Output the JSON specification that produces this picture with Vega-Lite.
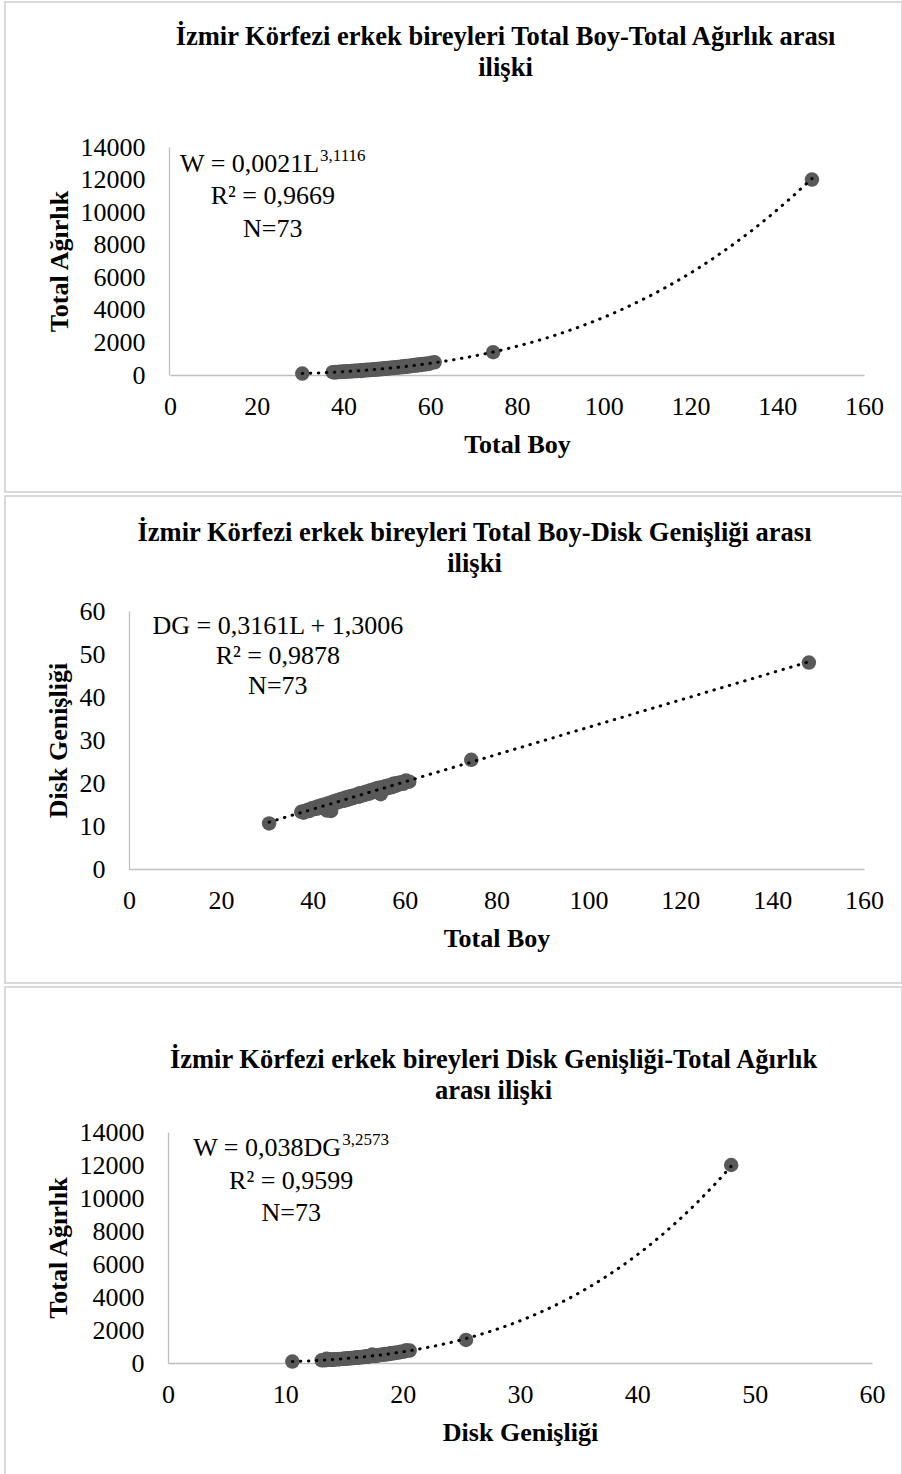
{
  "$schema": "https://vega.github.io/schema/vega-lite/v6.json",
  "padding": {"left": 4, "top": 1, "right": 0, "bottom": 0},
  "background": "white",
  "config": {
    "font": "Liberation Serif",
    "view": {"stroke": "#d9d9d9", "strokeWidth": 2},
    "concat": {"spacing": 2},
    "axis": {
      "domainColor": "#bfbfbf", "domainWidth": 1.3, "ticks": false, "grid": false,
      "labelFont": "Liberation Serif", "labelFontSize": 26, "labelColor": "#000",
      "titleFont": "Liberation Serif", "titleFontSize": 26, "titleFontWeight": "bold", "titleColor": "#000",
      "labelOverlap": false, "labelFlush": false, "format": "d"
    },
    "axisX": {"labelPadding": 18, "titlePadding": 12},
    "axisY": {"labelPadding": 24, "titlePadding": 8},
    "title": {"font": "Liberation Serif", "fontSize": 26.5, "fontWeight": "bold", "color": "#000", "lineHeight": 31, "anchor": "middle", "frame": "group"},
    "text": {"font": "Liberation Serif", "color": "#000"}
  },
  "datasets": {
    "fish": [
      {"L": 30.5, "DG": 10.6, "W": 85},
      {"L": 37.5, "DG": 13.3, "W": 170},
      {"L": 38.0, "DG": 13.1, "W": 160},
      {"L": 38.2, "DG": 13.5, "W": 185},
      {"L": 38.6, "DG": 13.4, "W": 175},
      {"L": 39.0, "DG": 13.8, "W": 196},
      {"L": 39.3, "DG": 13.5, "W": 184},
      {"L": 39.8, "DG": 14.1, "W": 210},
      {"L": 40.1, "DG": 13.9, "W": 198},
      {"L": 40.5, "DG": 14.3, "W": 220},
      {"L": 40.8, "DG": 14.0, "W": 207},
      {"L": 41.2, "DG": 14.6, "W": 232},
      {"L": 41.5, "DG": 14.2, "W": 219},
      {"L": 41.9, "DG": 14.8, "W": 245},
      {"L": 42.2, "DG": 14.5, "W": 230},
      {"L": 42.5, "DG": 15.0, "W": 255},
      {"L": 42.8, "DG": 14.6, "W": 241},
      {"L": 43.1, "DG": 13.6, "W": 238},
      {"L": 43.4, "DG": 15.3, "W": 275},
      {"L": 43.7, "DG": 15.0, "W": 259},
      {"L": 44.0, "DG": 13.5, "W": 252},
      {"L": 44.2, "DG": 15.6, "W": 290},
      {"L": 44.5, "DG": 15.2, "W": 272},
      {"L": 44.8, "DG": 15.8, "W": 301},
      {"L": 45.1, "DG": 15.4, "W": 284},
      {"L": 45.4, "DG": 16.0, "W": 315},
      {"L": 45.7, "DG": 15.6, "W": 296},
      {"L": 46.0, "DG": 16.2, "W": 326},
      {"L": 46.3, "DG": 15.8, "W": 305},
      {"L": 46.6, "DG": 16.4, "W": 341},
      {"L": 46.9, "DG": 15.9, "W": 318},
      {"L": 47.2, "DG": 16.6, "W": 352},
      {"L": 47.5, "DG": 16.1, "W": 330},
      {"L": 47.8, "DG": 16.8, "W": 368},
      {"L": 48.1, "DG": 16.3, "W": 344},
      {"L": 48.4, "DG": 17.0, "W": 383},
      {"L": 48.7, "DG": 16.5, "W": 358},
      {"L": 49.0, "DG": 17.1, "W": 396},
      {"L": 49.3, "DG": 16.7, "W": 372},
      {"L": 49.6, "DG": 17.3, "W": 412},
      {"L": 49.9, "DG": 16.8, "W": 388},
      {"L": 50.2, "DG": 17.6, "W": 428},
      {"L": 50.5, "DG": 17.0, "W": 401},
      {"L": 50.8, "DG": 17.7, "W": 445},
      {"L": 51.1, "DG": 17.2, "W": 417},
      {"L": 51.4, "DG": 17.9, "W": 461},
      {"L": 51.7, "DG": 17.4, "W": 433},
      {"L": 52.0, "DG": 18.1, "W": 478},
      {"L": 52.3, "DG": 17.5, "W": 447},
      {"L": 52.6, "DG": 18.3, "W": 495},
      {"L": 52.9, "DG": 17.8, "W": 463},
      {"L": 53.2, "DG": 18.5, "W": 514},
      {"L": 53.5, "DG": 18.0, "W": 481},
      {"L": 53.8, "DG": 18.7, "W": 532},
      {"L": 54.1, "DG": 18.2, "W": 498},
      {"L": 54.4, "DG": 18.9, "W": 552},
      {"L": 54.8, "DG": 17.4, "W": 508},
      {"L": 55.1, "DG": 19.0, "W": 573},
      {"L": 55.5, "DG": 18.5, "W": 540},
      {"L": 55.9, "DG": 19.3, "W": 598},
      {"L": 56.3, "DG": 18.8, "W": 563},
      {"L": 56.7, "DG": 19.5, "W": 626},
      {"L": 57.1, "DG": 19.0, "W": 590},
      {"L": 57.5, "DG": 19.8, "W": 653},
      {"L": 57.9, "DG": 19.3, "W": 616},
      {"L": 58.3, "DG": 20.0, "W": 682},
      {"L": 58.7, "DG": 19.6, "W": 642},
      {"L": 59.2, "DG": 20.2, "W": 712},
      {"L": 59.7, "DG": 19.8, "W": 676},
      {"L": 60.3, "DG": 20.6, "W": 756},
      {"L": 61.0, "DG": 20.3, "W": 780},
      {"L": 74.5, "DG": 25.4, "W": 1400},
      {"L": 148.0, "DG": 48.0, "W": 12000}
    ]
  },
  "vconcat": [
    {
      "width": 897,
      "height": 490,
      "title": {"text": ["İzmir Körfezi erkek bireyleri Total Boy-Total Ağırlık arası", "ilişki"], "offset": -79, "dx": 52},
      "data": {"name": "fish"},
      "layer": [
        {
          "mark": {"type": "circle", "size": 210, "color": "#595959", "opacity": 1},
          "encoding": {
            "x": {"field": "L", "type": "quantitative",
                  "scale": {"domain": [0, 160], "range": [165, 859], "nice": false, "zero": false},
                  "axis": {"title": "Total Boy", "values": [0, 20, 40, 60, 80, 100, 120, 140, 160], "offset": -117}},
            "y": {"field": "W", "type": "quantitative",
                  "scale": {"domain": [0, 14000], "range": [373, 145], "nice": false},
                  "axis": {"title": "Total Ağırlık", "values": [0, 2000, 4000, 6000, 8000, 10000, 12000, 14000], "offset": -164}}
          }
        },
        {
          "transform": [{"regression": "W", "on": "L", "method": "pow"}],
          "mark": {"type": "line", "color": "#000", "strokeWidth": 3, "strokeDash": [0.5, 7.5], "strokeCap": "round"},
          "encoding": {
            "x": {"field": "L", "type": "quantitative"},
            "y": {"field": "W", "type": "quantitative"}
          }
        },
        {
          "data": {"values": [{}]},
          "mark": {"type": "text", "align": "right", "baseline": "middle", "fontSize": 26},
          "encoding": {"x": {"datum": 34.4}, "y": {"datum": 12956}, "text": {"value": "W = 0,0021L"}}
        },
        {
          "data": {"values": [{}]},
          "mark": {"type": "text", "align": "left", "baseline": "middle", "fontSize": 17},
          "encoding": {"x": {"datum": 34.6}, "y": {"datum": 13450}, "text": {"value": "3,1116"}}
        },
        {
          "data": {"values": [{}]},
          "mark": {"type": "text", "align": "center", "baseline": "middle", "fontSize": 26},
          "encoding": {"x": {"datum": 23.7}, "y": {"datum": 10990}, "text": {"value": "R² = 0,9669"}}
        },
        {
          "data": {"values": [{}]},
          "mark": {"type": "text", "align": "center", "baseline": "middle", "fontSize": 26},
          "encoding": {"x": {"datum": 23.7}, "y": {"datum": 8965}, "text": {"value": "N=73"}}
        }
      ]
    },
    {
      "width": 897,
      "height": 487,
      "title": {"text": ["İzmir Körfezi erkek bireyleri Total Boy-Disk Genişliği arası", "ilişki"], "offset": -81, "dx": 21},
      "data": {"name": "fish"},
      "layer": [
        {
          "mark": {"type": "circle", "size": 210, "color": "#595959", "opacity": 1},
          "encoding": {
            "x": {"field": "L", "type": "quantitative",
                  "scale": {"domain": [0, 160], "range": [124, 859], "nice": false, "zero": false},
                  "axis": {"title": "Total Boy", "values": [0, 20, 40, 60, 80, 100, 120, 140, 160], "offset": -114}},
            "y": {"field": "DG", "type": "quantitative",
                  "scale": {"domain": [0, 60], "range": [373, 115], "nice": false},
                  "axis": {"title": "Disk Genişliği", "values": [0, 10, 20, 30, 40, 50, 60], "offset": -124}}
          }
        },
        {
          "transform": [{"regression": "DG", "on": "L", "method": "linear"}],
          "mark": {"type": "line", "color": "#000", "strokeWidth": 3, "strokeDash": [0.5, 7.5], "strokeCap": "round"},
          "encoding": {
            "x": {"field": "L", "type": "quantitative"},
            "y": {"field": "DG", "type": "quantitative"}
          }
        },
        {
          "data": {"values": [{}]},
          "mark": {"type": "text", "align": "center", "baseline": "middle", "fontSize": 26},
          "encoding": {"x": {"datum": 32.4}, "y": {"datum": 56.5}, "text": {"value": "DG = 0,3161L + 1,3006"}}
        },
        {
          "data": {"values": [{}]},
          "mark": {"type": "text", "align": "center", "baseline": "middle", "fontSize": 26},
          "encoding": {"x": {"datum": 32.4}, "y": {"datum": 49.5}, "text": {"value": "R² = 0,9878"}}
        },
        {
          "data": {"values": [{}]},
          "mark": {"type": "text", "align": "center", "baseline": "middle", "fontSize": 26},
          "encoding": {"x": {"datum": 32.4}, "y": {"datum": 42.6}, "text": {"value": "N=73"}}
        }
      ]
    },
    {
      "width": 897,
      "height": 491,
      "title": {"text": ["İzmir Körfezi erkek bireyleri Disk Genişliği-Total Ağırlık", "arası ilişki"], "offset": -117, "dx": 40},
      "data": {"name": "fish"},
      "layer": [
        {
          "mark": {"type": "circle", "size": 210, "color": "#595959", "opacity": 1},
          "encoding": {
            "x": {"field": "DG", "type": "quantitative",
                  "scale": {"domain": [0, 60], "range": [163, 867], "nice": false, "zero": false},
                  "axis": {"title": "Disk Genişliği", "values": [0, 10, 20, 30, 40, 50, 60], "offset": -115}},
            "y": {"field": "W", "type": "quantitative",
                  "scale": {"domain": [0, 14000], "range": [376, 145], "nice": false},
                  "axis": {"title": "Total Ağırlık", "values": [0, 2000, 4000, 6000, 8000, 10000, 12000, 14000], "offset": -163}}
          }
        },
        {
          "transform": [{"regression": "W", "on": "DG", "method": "pow"}],
          "mark": {"type": "line", "color": "#000", "strokeWidth": 3, "strokeDash": [0.5, 7.5], "strokeCap": "round"},
          "encoding": {
            "x": {"field": "DG", "type": "quantitative"},
            "y": {"field": "W", "type": "quantitative"}
          }
        },
        {
          "data": {"values": [{}]},
          "mark": {"type": "text", "align": "right", "baseline": "middle", "fontSize": 26},
          "encoding": {"x": {"datum": 14.75}, "y": {"datum": 13030}, "text": {"value": "W = 0,038DG"}}
        },
        {
          "data": {"values": [{}]},
          "mark": {"type": "text", "align": "left", "baseline": "middle", "fontSize": 17},
          "encoding": {"x": {"datum": 14.85}, "y": {"datum": 13500}, "text": {"value": "3,2573"}}
        },
        {
          "data": {"values": [{}]},
          "mark": {"type": "text", "align": "center", "baseline": "middle", "fontSize": 26},
          "encoding": {"x": {"datum": 10.5}, "y": {"datum": 11030}, "text": {"value": "R² = 0,9599"}}
        },
        {
          "data": {"values": [{}]},
          "mark": {"type": "text", "align": "center", "baseline": "middle", "fontSize": 26},
          "encoding": {"x": {"datum": 10.5}, "y": {"datum": 9090}, "text": {"value": "N=73"}}
        }
      ]
    }
  ]
}
